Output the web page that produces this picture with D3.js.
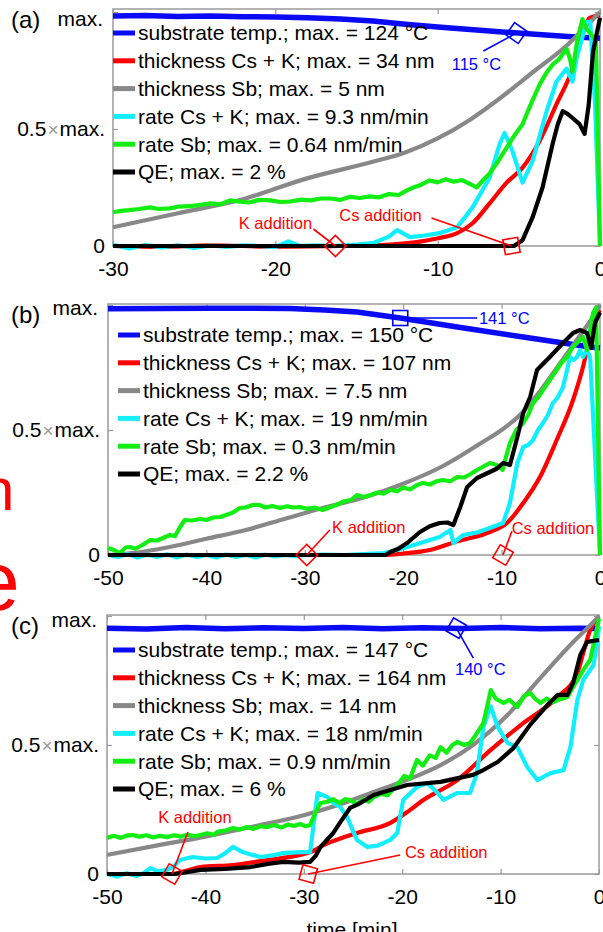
<!DOCTYPE html>
<html>
<head>
<meta charset="utf-8">
<script src="https://cdn.jsdelivr.net/npm/d3@7"></script>
<style>
  body { margin: 0; background: #fff; }
  svg { display: block; font-family: "Liberation Sans", Arial, sans-serif; }
</style>
</head>
<body>
<div id="chart"></div>
<script>
// ---- panel (a) : time [min] vs value / max ----
var ticksA = [-30, -20, -10, 0];
var legendA = ["substrate temp.; max. = 124 °C", "thickness Cs + K; max. = 34 nm", "thickness Sb; max. = 5 nm",
  "rate Cs + K; max. = 9.3 nm/min", "rate Sb; max. = 0.64 nm/min", "QE; max. = 2 %"];
var tempA = [[-30,0.983],[-28,0.985],[-26,0.981],[-24,0.983],[-22,0.98],[-20,0.979],[-18,0.975],[-16,0.97],[-14,0.962],
  [-12,0.948],[-10,0.936],[-8,0.925],[-6,0.915],[-4,0.905],[-2,0.895],[0,0.888]];
var thickKA = [[-30,0],[-27,-0.004],[-24,0.003],[-20,-0.003],[-16,0],[-14,0.002],[-12.9,0.006],[-11,0.02],[-9.9,0.034],[-8.8,0.055],
  [-7.85,0.097],[-6.8,0.182],[-5.75,0.271],[-4.77,0.335],[-3.72,0.449],[-2.68,0.606],[-1.69,0.758],[-1.08,0.9],[-0.65,0.975],[0,0.985]];
var thickSbA = [[-30,0.08],[-26,0.14],[-22,0.2],[-18,0.29],[-14,0.36],[-12,0.4],[-10,0.46],[-8,0.54],[-6,0.64],[-4,0.75],
  [-2,0.86],[-1,0.93],[0,1]];
var rateKA = [[-30,0.005],[-29,-0.01],[-28,0.004],[-27,-0.006],[-26,0.003],[-25,-0.008],[-24,0.002],[-23,-0.004],[-22,0.003],
  [-21,0],[-20,-0.005],[-19.2,0.02],[-18.5,0],[-17.5,0.003],[-16.5,0],[-15,0.006],[-14,0.012],[-13,0.04],[-12.5,0.068],
  [-11.7,0.038],[-10.8,0.045],[-9.9,0.055],[-8.8,0.08],[-7.85,0.165],[-6.8,0.292],[-6.18,0.436],[-5.88,0.483],[-5.4,0.407],
  [-4.77,0.271],[-4.15,0.364],[-3.29,0.576],[-2.68,0.703],[-2.06,0.758],[-1.69,0.703],[-1.45,0.8],[-0.83,0.958],[-0.6,0.958],
  [-0.3,0.6],[0,0]];
var rateSbA = [[-30,0.144],[-29.5,0.15],[-29,0.153],[-28.4,0.158],[-27.7,0.165],[-27.2,0.158],[-26.5,0.161],[-26,0.168],
  [-25.3,0.17],[-24.6,0.176],[-24,0.182],[-23.4,0.178],[-22.8,0.195],[-22.2,0.19],[-21.6,0.186],[-21,0.197],[-20.3,0.195],
  [-19.7,0.188],[-19.1,0.19],[-18.4,0.198],[-17.8,0.195],[-17.2,0.203],[-16.6,0.203],[-16,0.197],[-15.4,0.21],[-14.8,0.205],
  [-14.2,0.212],[-13.6,0.208],[-13,0.222],[-12.4,0.218],[-11.9,0.238],[-11.5,0.25],[-11,0.262],[-10.5,0.28],[-10,0.272],
  [-9.5,0.285],[-9,0.275],[-8.5,0.282],[-8,0.265],[-7.6,0.25],[-7.2,0.282],[-6.8,0.31],[-6.3,0.36],[-5.75,0.42],[-5.3,0.47],
  [-4.77,0.52],[-4.3,0.6],[-3.72,0.69],[-3.3,0.74],[-2.92,0.775],[-2.5,0.8],[-2.06,0.843],[-1.85,0.8],[-1.69,0.745],
  [-1.4,0.88],[-1.08,0.97],[-0.85,0.93],[-0.5,0.9],[-0.25,0.88],[0,0]];
var qeA = [[-30,0],[-5.3,0],[-4.77,0.025],[-4.15,0.123],[-3.54,0.25],[-2.92,0.436],[-2.6,0.52],[-2.3,0.576],[-2,0.565],
  [-1.69,0.547],[-1.26,0.521],[-0.95,0.479],[-0.7,0.6],[-0.43,0.83],[-0.18,0.915],[0,0.975]];
var annA = [
  { t: -5.15, v: 0.91, color: "#0000ff", rot: 35, text: "115 °C", lx: -33, ly: 18, tx: -40, ty: 31 },
  { t: -16.3, v: 0, color: "#ff0000", rot: 45, text: "K addition", lx: -22, ly: -17, tx: -60, ty: -23 },
  { t: -5.45, v: 0, color: "#ff0000", rot: -10, text: "Cs addition", lx: -80, ly: -28, tx: -131, ty: -31 }
];

// ---- panel (b) ----
var ticksB = [-50, -40, -30, -20, -10, 0];
var legendB = ["substrate temp.; max. = 150 °C", "thickness Cs + K; max. = 107 nm", "thickness Sb; max. = 7.5 nm",
  "rate Cs + K; max. = 19 nm/min", "rate Sb; max. = 0.3 nm/min", "QE; max. = 2.2 %"];
var tempB = [[-50,0.985],[-45,0.986],[-40,0.987],[-35,0.987],[-31.5,0.986],[-28,0.98],[-24.7,0.972],[-20.3,0.948],
  [-14.5,0.912],[-7.8,0.872],[-4.4,0.852],[-1,0.832],[0,0.828]];
var thickKB = [[-50,0],[-22,0],[-20,0.006],[-17.3,0.02],[-14.5,0.055],[-11.2,0.092],[-9.45,0.128],[-7.8,0.208],[-6.1,0.312],
  [-4.4,0.46],[-2.74,0.62],[-1.73,0.752],[-1.02,0.872],[-0.3,0.96],[0,0.98]];
var thickSbB = [[-50,0],[-47,0.01],[-44,0.03],[-40,0.065],[-36,0.1],[-32,0.145],[-28,0.19],[-24,0.23],[-20,0.285],
  [-16,0.355],[-12,0.45],[-10,0.5],[-8,0.565],[-6,0.66],[-4,0.77],[-2,0.88],[-1,0.935],[0,1]];
var rateKB = [[-50,0],[-49,-0.008],[-48,0.004],[-47,-0.01],[-46,0.002],[-45,-0.008],[-44,0.003],[-43,-0.01],[-42,0.002],
  [-41,-0.008],[-40,0],[-39,-0.01],[-38,0.002],[-37,-0.008],[-36,0],[-35,-0.01],[-34,0.002],[-33,-0.006],[-32,0],
  [-31,-0.005],[-30,0],[-28,0.002],[-26,0],[-24,0.004],[-22,0.008],[-20.6,0.02],[-18.5,0.045],[-16.3,0.072],[-15.2,0.1],
  [-14.9,0.048],[-13.9,0.08],[-12.5,0.09],[-11.2,0.108],[-9.85,0.128],[-9.15,0.208],[-8.4,0.368],[-7.8,0.432],[-7.3,0.44],
  [-6.8,0.46],[-6.3,0.5],[-5.8,0.528],[-5.3,0.56],[-4.78,0.608],[-4.3,0.63],[-3.76,0.672],[-3.4,0.73],[-3.05,0.792],
  [-2.7,0.78],[-2.34,0.792],[-2.03,0.82],[-1.73,0.792],[-1.32,0.82],[-1,0.79],[0,0]];
var rateSbB = [[-50,0.028],[-49.4,0.02],[-48.8,0.008],[-48.2,0.03],[-47.8,0.032],[-47.2,0.025],[-46.5,0.04],[-45.7,0.06],
  [-45,0.058],[-44.3,0.07],[-43.7,0.08],[-43.2,0.075],[-42.7,0.11],[-42.2,0.14],[-41.5,0.138],[-40.6,0.144],[-40,0.14],
  [-39.3,0.15],[-38.6,0.152],[-38,0.16],[-37.3,0.17],[-36.6,0.188],[-36,0.19],[-35.3,0.2],[-34.6,0.2],[-34,0.19],
  [-33.3,0.196],[-32.5,0.188],[-31.8,0.195],[-31.2,0.19],[-30.5,0.192],[-29.8,0.185],[-29,0.19],[-28.2,0.18],[-27.5,0.19],
  [-26.8,0.2],[-26,0.215],[-25.3,0.22],[-24.7,0.24],[-24,0.232],[-23.3,0.24],[-22.6,0.25],[-22,0.245],[-21.3,0.26],
  [-20.6,0.255],[-20,0.27],[-19.3,0.262],[-18.6,0.28],[-18,0.288],[-17.3,0.282],[-16.6,0.295],[-16,0.3],[-15.2,0.295],
  [-14.5,0.312],[-13.8,0.31],[-13.1,0.325],[-12.5,0.34],[-11.8,0.355],[-11.2,0.368],[-10.5,0.36],[-9.9,0.34],[-9.5,0.4],
  [-9.15,0.448],[-8.5,0.5],[-7.8,0.528],[-7.3,0.56],[-6.8,0.608],[-6.3,0.63],[-5.8,0.66],[-5.1,0.7],[-4.4,0.74],[-3.9,0.77],
  [-3.35,0.792],[-2.8,0.83],[-2.34,0.848],[-1.73,0.872],[-1.32,0.82],[-1,0.9],[-0.71,0.968],[-0.4,0.99],[0,0]];
var qeB = [[-50,0],[-21.8,0],[-21.3,0.012],[-20.5,0.025],[-19.6,0.048],[-18.3,0.092],[-17.3,0.115],[-16.3,0.128],
  [-15.5,0.13],[-14.9,0.12],[-14.2,0.192],[-13.5,0.272],[-12.5,0.308],[-11.2,0.332],[-10.5,0.345],[-9.85,0.368],[-9.15,0.36],
  [-8.4,0.472],[-7.8,0.568],[-7.1,0.632],[-6.4,0.74],[-5.1,0.792],[-3.76,0.848],[-2.74,0.888],[-2.03,0.9],[-1.32,0.888],
  [-0.9,0.83],[-0.5,0.93],[0,0.97]];
var annB = [
  { t: -20.3, v: 0.948, color: "#0000ff", rot: 0, text: "141 °C", lx: 77, ly: 0, tx: 104, ty: 0 },
  { t: -29.8, v: 0, color: "#ff0000", rot: 45, text: "K addition", lx: 23, ly: -25, tx: 62, ty: -28 },
  { t: -9.86, v: 0, color: "#ff0000", rot: 30, text: "Cs addition", lx: 9, ly: -24, tx: 50, ty: -27 }
];

// ---- panel (c) ----
var ticksC = [-50, -40, -30, -20, -10, 0];
var legendC = ["substrate temp.; max. = 147 °C", "thickness Cs + K; max. = 164 nm", "thickness Sb; max. = 14 nm",
  "rate Cs + K; max. = 18 nm/min", "rate Sb; max. = 0.9 nm/min", "QE; max. = 6 %"];
var tempC = [[-50,0.953],[-46,0.95],[-42,0.955],[-38,0.951],[-34,0.954],[-30,0.952],[-26,0.955],[-22,0.951],[-18,0.954],
  [-14,0.952],[-10,0.955],[-6,0.951],[-2,0.953],[0,0.952]];
var thickKC = [[-50,0],[-43.5,0],[-42,0.012],[-40.5,0.027],[-37.2,0.035],[-33.7,0.054],[-30.4,0.074],[-29,0.09],[-28,0.112],
  [-26.5,0.135],[-24.6,0.159],[-21.2,0.198],[-19.5,0.24],[-17.85,0.287],[-14.4,0.364],[-11,0.481],[-7.7,0.585],[-4.2,0.686],
  [-2.2,0.779],[-1.6,0.857],[-0.9,0.946],[0,0.99]];
var thickSbC = [[-50,0.074],[-45,0.11],[-40,0.145],[-35,0.185],[-30,0.228],[-26.3,0.27],[-22.9,0.318],[-19.5,0.365],
  [-16.1,0.422],[-12.8,0.5],[-9.3,0.616],[-5.95,0.76],[-2.6,0.9],[-0.56,0.977],[0,1]];
var rateKC = [[-50,0],[-49,-0.01],[-48,0.003],[-47,-0.008],[-46.2,0.005],[-45.6,0.023],[-44.8,0.01],[-43.9,0.016],
  [-43.2,0.03],[-42.6,0.054],[-41.3,0.066],[-40,0.06],[-38.8,0.062],[-38,0.08],[-37.2,0.105],[-36.2,0.085],[-35.3,0.075],
  [-34.4,0.066],[-33.2,0.072],[-32.1,0.081],[-30.4,0.085],[-29.35,0.085],[-28.6,0.314],[-27.6,0.298],[-27,0.275],
  [-26.3,0.26],[-25.6,0.221],[-24.6,0.132],[-23.55,0.105],[-22.5,0.11],[-21.2,0.132],[-20.5,0.159],[-19.9,0.287],
  [-18.5,0.337],[-17.45,0.353],[-16.4,0.314],[-15.8,0.287],[-14.4,0.314],[-13.1,0.314],[-12.4,0.391],[-11.75,0.57],
  [-11,0.65],[-10.3,0.57],[-9.3,0.508],[-8.3,0.492],[-7.3,0.415],[-6.25,0.364],[-5.5,0.38],[-4.9,0.391],[-3.6,0.403],
  [-2.9,0.492],[-2.2,0.674],[-1.6,0.752],[-0.56,0.81],[-0.3,0.868],[0,0.96]];
var rateSbC = [[-50,0.14],[-49.3,0.148],[-48.6,0.14],[-47.9,0.15],[-47.4,0.151],[-46.7,0.145],[-46,0.15],[-45.3,0.142],
  [-44.6,0.148],[-43.9,0.143],[-43.2,0.15],[-42.5,0.145],[-41.8,0.152],[-41.1,0.147],[-40.5,0.151],[-39.8,0.158],
  [-39.1,0.152],[-38.8,0.163],[-38,0.168],[-37.2,0.178],[-36.5,0.172],[-35.8,0.182],[-35.1,0.175],[-34.4,0.185],
  [-33.7,0.182],[-33,0.19],[-32.3,0.18],[-31.6,0.192],[-31,0.186],[-30.4,0.194],[-29.8,0.185],[-29.35,0.19],[-28.8,0.24],
  [-28.3,0.275],[-27.6,0.28],[-27,0.29],[-26.4,0.275],[-25.8,0.29],[-25.3,0.287],[-24.6,0.27],[-24,0.29],[-23.4,0.28],
  [-22.9,0.298],[-22.2,0.31],[-21.5,0.305],[-20.9,0.33],[-20.5,0.345],[-19.8,0.38],[-19.2,0.37],[-18.5,0.442],[-17.9,0.42],
  [-17.2,0.46],[-16.6,0.45],[-16.1,0.492],[-15.5,0.47],[-14.9,0.5],[-14.4,0.512],[-13.7,0.5],[-13.1,0.508],[-12.5,0.54],
  [-11.75,0.585],[-11.3,0.66],[-11,0.713],[-10.5,0.68],[-9.7,0.663],[-9.1,0.675],[-8.3,0.647],[-7.6,0.69],[-7,0.702],
  [-6.5,0.68],[-5.95,0.663],[-5.3,0.68],[-4.7,0.665],[-4.2,0.674],[-3.7,0.68],[-3.2,0.686],[-2.7,0.72],[-2.2,0.752],
  [-1.6,0.79],[-0.9,0.83],[-0.3,0.934],[0,0.99]];
var qeC = [[-50,0],[-43,0],[-40.5,0.016],[-38,0.02],[-35.45,0.027],[-33.5,0.04],[-32.1,0.047],[-30.5,0.044],[-29.35,0.047],
  [-28.8,0.07],[-28.3,0.105],[-27,0.159],[-26.3,0.2],[-25.3,0.256],[-24.5,0.27],[-22.9,0.306],[-19.5,0.345],[-16.1,0.357],
  [-12.8,0.384],[-11.75,0.403],[-10.3,0.434],[-8.7,0.488],[-7,0.578],[-5.25,0.655],[-4.2,0.694],[-3.2,0.694],[-2.6,0.744],
  [-1.9,0.849],[-1.2,0.9],[0,0.907]];
var annC = [
  { t: -14.5, v: 0.953, color: "#0000ff", rot: 30, text: "140 °C", lx: 17, ly: 30, tx: 24, ty: 41 },
  { t: -43.4, v: 0, color: "#ff0000", rot: 30, text: "K addition", lx: 16, ly: -42, tx: 23, ty: -57 },
  { t: -29.55, v: 0, color: "#ff0000", rot: 15, text: "Cs addition", lx: 92, ly: -19, tx: 138, ty: -22 }
];

var colors = ["#0a0af5", "#ff0000", "#888888", "#11eeff", "#11ee11", "#000000"];
var widths = [5.5, 4.2, 4.2, 4.2, 4.2, 4.2];
var frameColor = "#9a9a9a";

var panels = [
  { label: "(a)", domain: [-30, 0], ticks: ticksA, names: legendA, ann: annA,
    series: [tempA, thickKA, thickSbA, rateKA, rateSbA, qeA],
    left: 113, right: 600, bottom: 246, one: 12, top: 9, maxDy: 7, legX: 113, legY: 33 },
  { label: "(b)", domain: [-50, 0], ticks: ticksB, names: legendB, ann: annB,
    series: [tempB, thickKB, thickSbB, rateKB, rateSbB, qeB],
    left: 108, right: 600, bottom: 555, one: 305, top: 304, maxDy: 3, legX: 118, legY: 335 },
  { label: "(c)", domain: [-50, 0], ticks: ticksC, names: legendC, ann: annC,
    series: [tempC, thickKC, thickSbC, rateKC, rateSbC, qeC],
    left: 107, right: 599, bottom: 874, one: 616, top: 615, maxDy: 4, legX: 113, legY: 650 }
];

var svg = d3.select("#chart").append("svg")
  .attr("width", 603)
  .attr("height", 932);

// slide text peeking out behind the figure
svg.append("text").attr("x", -19).attr("y", 510).attr("fill", "#ff0000")
  .style("font-size", "60px").text("n");
svg.append("text").attr("x", -27).attr("y", 610).attr("fill", "#ff0000")
  .style("font-size", "84px").text("e");

panels.forEach(function (p) {
  var x = d3.scaleLinear().domain(p.domain).range([p.left, p.right]);
  var y = d3.scaleLinear().domain([0, 1]).range([p.bottom, p.one]);
  var g = svg.append("g");

  // axes box
  g.append("rect")
    .attr("x", p.left).attr("y", p.top)
    .attr("width", p.right - p.left).attr("height", p.bottom - p.top)
    .attr("fill", "none").attr("stroke", frameColor).attr("stroke-width", 1.5);

  var xb = g.append("g").attr("transform", "translate(0," + p.bottom + ")")
    .call(d3.axisBottom(x).tickValues(p.ticks).tickSizeInner(-5).tickSizeOuter(0).tickPadding(15));
  var xt = g.append("g").attr("transform", "translate(0," + p.top + ")")
    .call(d3.axisTop(x).tickValues(p.ticks).tickSizeInner(-5).tickSizeOuter(0).tickFormat(""));
  var yl = g.append("g").attr("transform", "translate(" + p.left + ",0)")
    .call(d3.axisLeft(y).tickValues([0, 0.5, 1]).tickSizeInner(-5).tickSizeOuter(0).tickFormat(""));
  var yr = g.append("g").attr("transform", "translate(" + p.right + ",0)")
    .call(d3.axisRight(y).tickValues([0, 0.5, 1]).tickSizeInner(-5).tickSizeOuter(0).tickFormat(""));
  [xb, xt, yl, yr].forEach(function (a) {
    a.select(".domain").remove();
    a.selectAll("line").attr("stroke", frameColor).attr("stroke-width", 1.2);
  });
  xb.selectAll("text")
    .attr("fill", "#000")
    .style("font-size", "21px")
    .style("font-family", "'Liberation Sans', Arial, sans-serif")
    .text(function (d) { return String(d); });

  // y tick labels
  g.append("text").attr("x", p.left - 8).attr("y", y(0)).attr("dy", "0.35em")
    .attr("text-anchor", "end").style("font-size", "21px").text("0");
  var half = g.append("text").attr("x", p.left - 8).attr("y", y(0.5)).attr("dy", "0.35em")
    .attr("text-anchor", "end").style("font-size", "21px");
  half.append("tspan").text("0.5");
  half.append("tspan").attr("fill", "#999").attr("dx", 1).style("font-size", "19px").text("×");
  half.append("tspan").attr("dx", 1).text("max.");
  g.append("text").attr("x", p.left - 10).attr("y", y(1) + p.maxDy).attr("dy", "0.35em")
    .attr("text-anchor", "end").style("font-size", "21px").text("max.");

  // panel label
  g.append("text").attr("x", 11).attr("y", p.top + 19)
    .style("font-size", "24px").text(p.label);

  // data lines
  p.series.forEach(function (s, i) {
    var smooth = (i === 1 || i === 2);
    var line = d3.line()
      .x(function (d) { return x(d[0]); })
      .y(function (d) { return y(d[1]); })
      .curve(smooth ? d3.curveMonotoneX : d3.curveLinear);
    g.append("path")
      .datum(s)
      .attr("d", line)
      .attr("fill", "none")
      .attr("stroke", colors[i])
      .attr("stroke-width", widths[i])
      .attr("stroke-linejoin", "round");
  });

  // legend
  p.names.forEach(function (name, i) {
    var ly = p.legY + i * 27.8;
    g.append("line")
      .attr("x1", p.legX).attr("x2", p.legX + 22)
      .attr("y1", ly).attr("y2", ly)
      .attr("stroke", colors[i]).attr("stroke-width", 5);
    g.append("text")
      .attr("x", p.legX + 25).attr("y", ly).attr("dy", "0.35em")
      .style("font-size", "21px").attr("fill", "#000")
      .text(name);
  });

  // annotations
  p.ann.forEach(function (a) {
    var cx = x(a.t), cy = y(a.v);
    g.append("line")
      .attr("x1", cx).attr("y1", cy)
      .attr("x2", cx + a.lx).attr("y2", cy + a.ly)
      .attr("stroke", a.color).attr("stroke-width", 1.6);
    g.append("rect")
      .attr("x", -7.5).attr("y", -7.5).attr("width", 15).attr("height", 15)
      .attr("transform", "translate(" + cx + "," + cy + ") rotate(" + a.rot + ")")
      .attr("fill", "none").attr("stroke", a.color).attr("stroke-width", 1.6);
    g.append("text")
      .attr("x", cx + a.tx).attr("y", cy + a.ty).attr("dy", "0.35em")
      .attr("text-anchor", "middle")
      .attr("fill", a.color).style("font-size", "16.5px")
      .text(a.text);
  });
});

svg.append("text").attr("x", 352).attr("y", 937)
  .attr("text-anchor", "middle").style("font-size", "21px").text("time [min]");
</script>
</body>
</html>
